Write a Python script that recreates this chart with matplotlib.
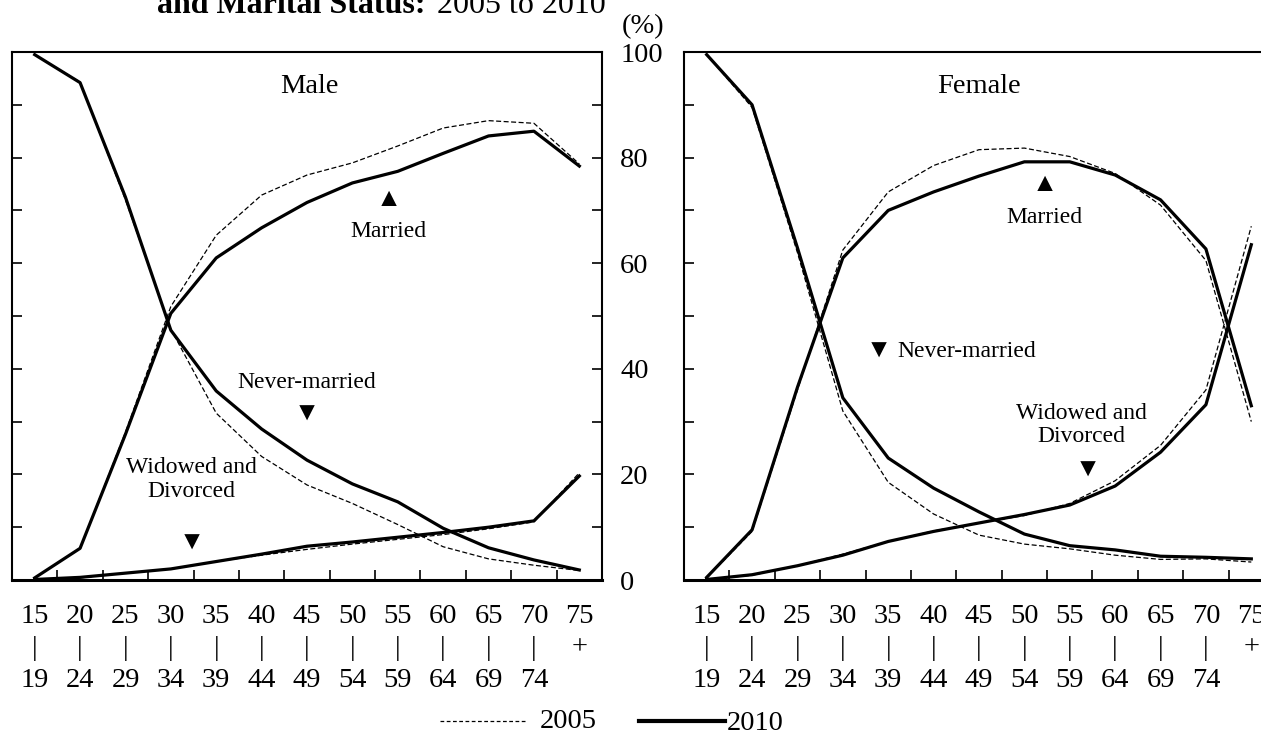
import numpy as np
import matplotlib
matplotlib.use("Agg")
import matplotlib.pyplot as plt
from matplotlib.lines import Line2D

plt.rcParams['font.family'] = ['Liberation Serif', 'DejaVu Sans']

# age groups
ages_lo = ["15", "20", "25", "30", "35", "40", "45", "50", "55", "60", "65", "70", "75"]
ages_hi = ["19", "24", "29", "34", "39", "44", "49", "54", "59", "64", "69", "74", ""]

# Male (%)
male_never_2005 = [99.5, 94.3, 72.0, 47.5, 31.6, 23.4, 18.0, 14.5, 10.5, 6.3, 4.0, 2.8, 1.8]
male_never_2010 = [99.5, 94.2, 72.5, 47.3, 35.8, 28.6, 22.7, 18.2, 14.8, 9.8, 6.1, 3.8, 1.9]
male_married_2005 = [0.4, 6.0, 28.0, 51.8, 65.3, 72.9, 76.7, 79.0, 82.2, 85.6, 87.0, 86.5, 78.8]
male_married_2010 = [0.4, 6.0, 27.6, 50.5, 61.0, 66.7, 71.5, 75.2, 77.4, 80.8, 84.1, 85.0, 78.4]
male_wd_2005 = [0.1, 0.4, 1.3, 2.1, 3.5, 4.7, 5.8, 6.8, 7.7, 8.6, 9.7, 11.0, 20.3]
male_wd_2010 = [0.1, 0.5, 1.3, 2.1, 3.5, 4.9, 6.4, 7.2, 8.1, 9.0, 10.0, 11.2, 19.7]

# Female (%)
female_never_2005 = [99.5, 89.5, 62.0, 32.0, 18.5, 12.5, 8.5, 6.8, 5.9, 4.7, 3.9, 4.0, 3.4]
female_never_2010 = [99.5, 90.0, 62.9, 34.5, 23.1, 17.4, 12.9, 8.7, 6.5, 5.7, 4.5, 4.3, 4.0]
female_married_2005 = [0.4, 9.2, 36.0, 62.5, 73.5, 78.5, 81.5, 81.8, 80.2, 77.0, 71.0, 60.5, 30.0]
female_married_2010 = [0.5, 9.5, 36.5, 61.0, 70.0, 73.5, 76.5, 79.2, 79.2, 76.7, 72.0, 62.7, 33.0]
female_wd_2005 = [0.1, 0.9, 2.7, 4.9, 7.3, 9.3, 10.8, 12.2, 14.5, 18.8, 25.5, 36.0, 67.0]
female_wd_2010 = [0.1, 1.0, 2.7, 4.7, 7.3, 9.2, 10.8, 12.4, 14.2, 17.8, 24.2, 33.2, 63.5]

W, H = 1261, 731
fig = plt.figure(figsize=(W / 100, H / 100), dpi=100)

BIG = 20.5
SMALL = 17
TRI = 19

x = np.arange(len(ages_lo))
labels = []
for lo, hi in zip(ages_lo, ages_hi):
    mid = "+" if hi == "" else "|"
    labels.append(lo + "\n" + mid + "\n" + hi)


def setup(ax):
    ax.set_xlim(-0.5, len(x) - 0.5)
    ax.set_ylim(0, 100)
    ax.set_xticks(x)
    ax.set_xticklabels(labels, fontsize=BIG, linespacing=1.38)
    ax.set_xticks(x[:-1] + 0.5, minor=True)
    ax.tick_params(axis='x', which='major', length=0, pad=17)
    ax.tick_params(axis='x', which='minor', direction='in', length=7, width=1.2)
    ax.set_yticks(np.arange(0, 101, 10))
    ax.tick_params(axis='y', which='major', direction='in', length=7, width=1.2,
                   labelleft=False, right=False)
    for s in ax.spines.values():
        s.set_linewidth(1.5)
    ax.spines['bottom'].set_linewidth(2.2)
    ax.spines['right'].set_visible(False)


def draw(ax, pairs):
    for d05, d10 in pairs:
        ax.plot(x, d05, color='black', lw=0.9, ls=(0, (4, 2)))
        ax.plot(x, d10, color='black', lw=2.3)


axm = fig.add_axes([12 / W, 1 - 580 / H, 590 / W, 528 / H])
setup(axm)
axm.spines['right'].set_visible(True)
axm.tick_params(axis='y', right=True, labelright=True, labelsize=BIG, pad=13)
axm.set_yticks(np.arange(0, 101, 20), labels=[str(v) for v in range(0, 101, 20)])
axm.set_yticks(np.arange(10, 100, 20), minor=True)
axm.tick_params(axis='y', which='minor', direction='in', length=7, width=1.2,
                left=True, right=True)
draw(axm, [(male_never_2005, male_never_2010),
           (male_married_2005, male_married_2010),
           (male_wd_2005, male_wd_2010)])

axf = fig.add_axes([684 / W, 1 - 580 / H, 590 / W, 528 / H])
setup(axf)
draw(axf, [(female_never_2005, female_never_2010),
           (female_married_2005, female_married_2010),
           (female_wd_2005, female_wd_2010)])

# panel names
axm.text(6.05, 93.5, "Male", ha='center', va='center', fontsize=BIG)
axf.text(6.0, 93.5, "Female", ha='center', va='center', fontsize=BIG)

# annotations
axm.text(7.8, 72.0, "\u25b2", ha='center', va='center', fontsize=TRI)
axm.text(7.8, 66.0, "Married", ha='center', va='center', fontsize=SMALL)
axm.text(6.0, 31.3, "\u25bc", ha='center', va='center', fontsize=TRI)
axm.text(6.0, 37.5, "Never-married", ha='center', va='center', fontsize=SMALL)
axm.text(3.45, 6.8, "\u25bc", ha='center', va='center', fontsize=TRI)
axm.text(3.45, 19.0, "Widowed and\nDivorced", ha='center', va='center',
         fontsize=SMALL, linespacing=1.15)

axf.text(7.45, 74.8, "\u25b2", ha='center', va='center', fontsize=TRI)
axf.text(7.45, 68.6, "Married", ha='center', va='center', fontsize=SMALL)
axf.text(3.8, 43.3, "\u25bc", ha='center', va='center', fontsize=TRI)
axf.text(4.2, 43.3, "Never-married", ha='left', va='center', fontsize=SMALL)
axf.text(8.4, 20.8, "\u25bc", ha='center', va='center', fontsize=TRI)
axf.text(8.25, 29.3, "Widowed and\nDivorced", ha='center', va='center',
         fontsize=SMALL, linespacing=1.15)

# unit
fig.text(643 / W, 1 - 27 / H, "(%)", ha='center', va='center', fontsize=BIG)

# title (cut off at the top like the source)
fig.text(425 / W, 1 - 13 / H, "and Marital Status:", ha='right', va='baseline',
         fontsize=23, fontweight='bold')
fig.text(437 / W, 1 - 13 / H, "2005 to 2010", ha='left', va='baseline',
         fontsize=23)

# legend, drawn by hand to match the spacing of the source
ly = 1 - 721 / H
fig.add_artist(Line2D([440 / W, 525 / W], [ly, ly], color='black', lw=0.9,
                      ls=(0, (3, 2))))
fig.text(540 / W, ly, "2005", ha='left', va='center', fontsize=BIG)
fig.add_artist(Line2D([639 / W, 725 / W], [ly, ly], color='black', lw=3.0))
fig.text(727 / W, ly - 3 / H, "2010", ha='left', va='center', fontsize=BIG)

fig.savefig("out.png", dpi=100)
